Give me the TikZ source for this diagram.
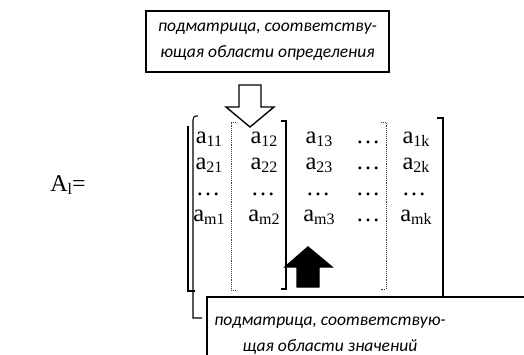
\documentclass[tikz,border=0pt]{standalone}
\usepackage{fontspec}
\setmainfont{Liberation Serif}
\newfontfamily\boxfont{Carlito}
\newcommand{\ent}[1]{{\fontsize{24.5}{24.5}\selectfont a}{\fontsize{16}{16}\selectfont\raisebox{-2.5pt}{#1}}}
\newcommand{\edots}{{\fontsize{24.5}{24.5}\selectfont\dots}}
\begin{document}
\begin{tikzpicture}[x=1pt,y=-1pt,
  boxlabel/.style={align=center,font=\boxfont\itshape\fontsize{17.5}{26}\selectfont},
  cell/.style={anchor=base,inner sep=0pt},
  brk/.style={line width=1.1pt},
  dbrk/.style={line width=0.9pt,densely dotted,black!75},
  blockarrow/.style={line width=1.4pt,line join=miter}]
\useasboundingbox (0,0) rectangle (524,355);
% top box
\node[boxlabel,draw,line width=1.1pt,minimum width=243pt,minimum height=61pt] (top) at (267.5,41.5)
  {подматрица, соответству-\\ющая области определения};
% open arrow
\draw[blockarrow,fill=white] (239,85) -- (261,85) -- (261,107) -- (274,107) -- (250,127) -- (226,107) -- (239,107) -- cycle;
% A_l =
\node[cell] (al) at (68,192) {{\fontsize{24}{24}\selectfont A}{\fontsize{16}{16}\selectfont\raisebox{-3pt}{l}}{\fontsize{24}{24}\selectfont=}};
% entries
\foreach \r/\y in {1/144,2/170,m/222}{
  \node[cell] (e\r1) at (209,\y) {\ent{\r1}};
  \node[cell] (e\r2) at (264,\y) {\ent{\r2}};
  \node[cell] (e\r3) at (319,\y) {\ent{\r3}};
  \node[cell] (e\r4) at (368,\y) {\edots};
  \node[cell] (e\r5) at (416,\y) {\ent{\r k}};
}
\foreach \c/\x in {1/208,2/263,3/318,4/368,5/414}{
  \node[cell] (d\c) at (\x,196) {\edots};
}
% brackets
\draw[brk] (195,291) -- (188,291) -- (188,126);
\draw[brk] (198,116) .. controls (194,116) .. (193,120) -- (193,318) -- (202,318);
\draw[brk] (281,121) -- (286,121) -- (286,289) -- (281,289);
\draw[brk,line width=1.3pt] (437,118) -- (443,118) -- (443,297);
\draw[dbrk] (236,122) -- (231,122) -- (231,290) -- (236,290);
\draw[dbrk] (381,122) -- (386,122) -- (386,289) -- (381,289);
% black arrow
\draw[blockarrow,fill=black] (297,287) -- (297,267) -- (285,267) -- (308,247) -- (332,267) -- (319,267) -- (319,287) -- cycle;
% bottom box
\draw[line width=1.3pt] (207,420) -- (207,297) -- (600,297);
\node[boxlabel] (bot) at (330,336) {подматрица, соответствую-\\щая области значений};
\end{tikzpicture}
\end{document}
